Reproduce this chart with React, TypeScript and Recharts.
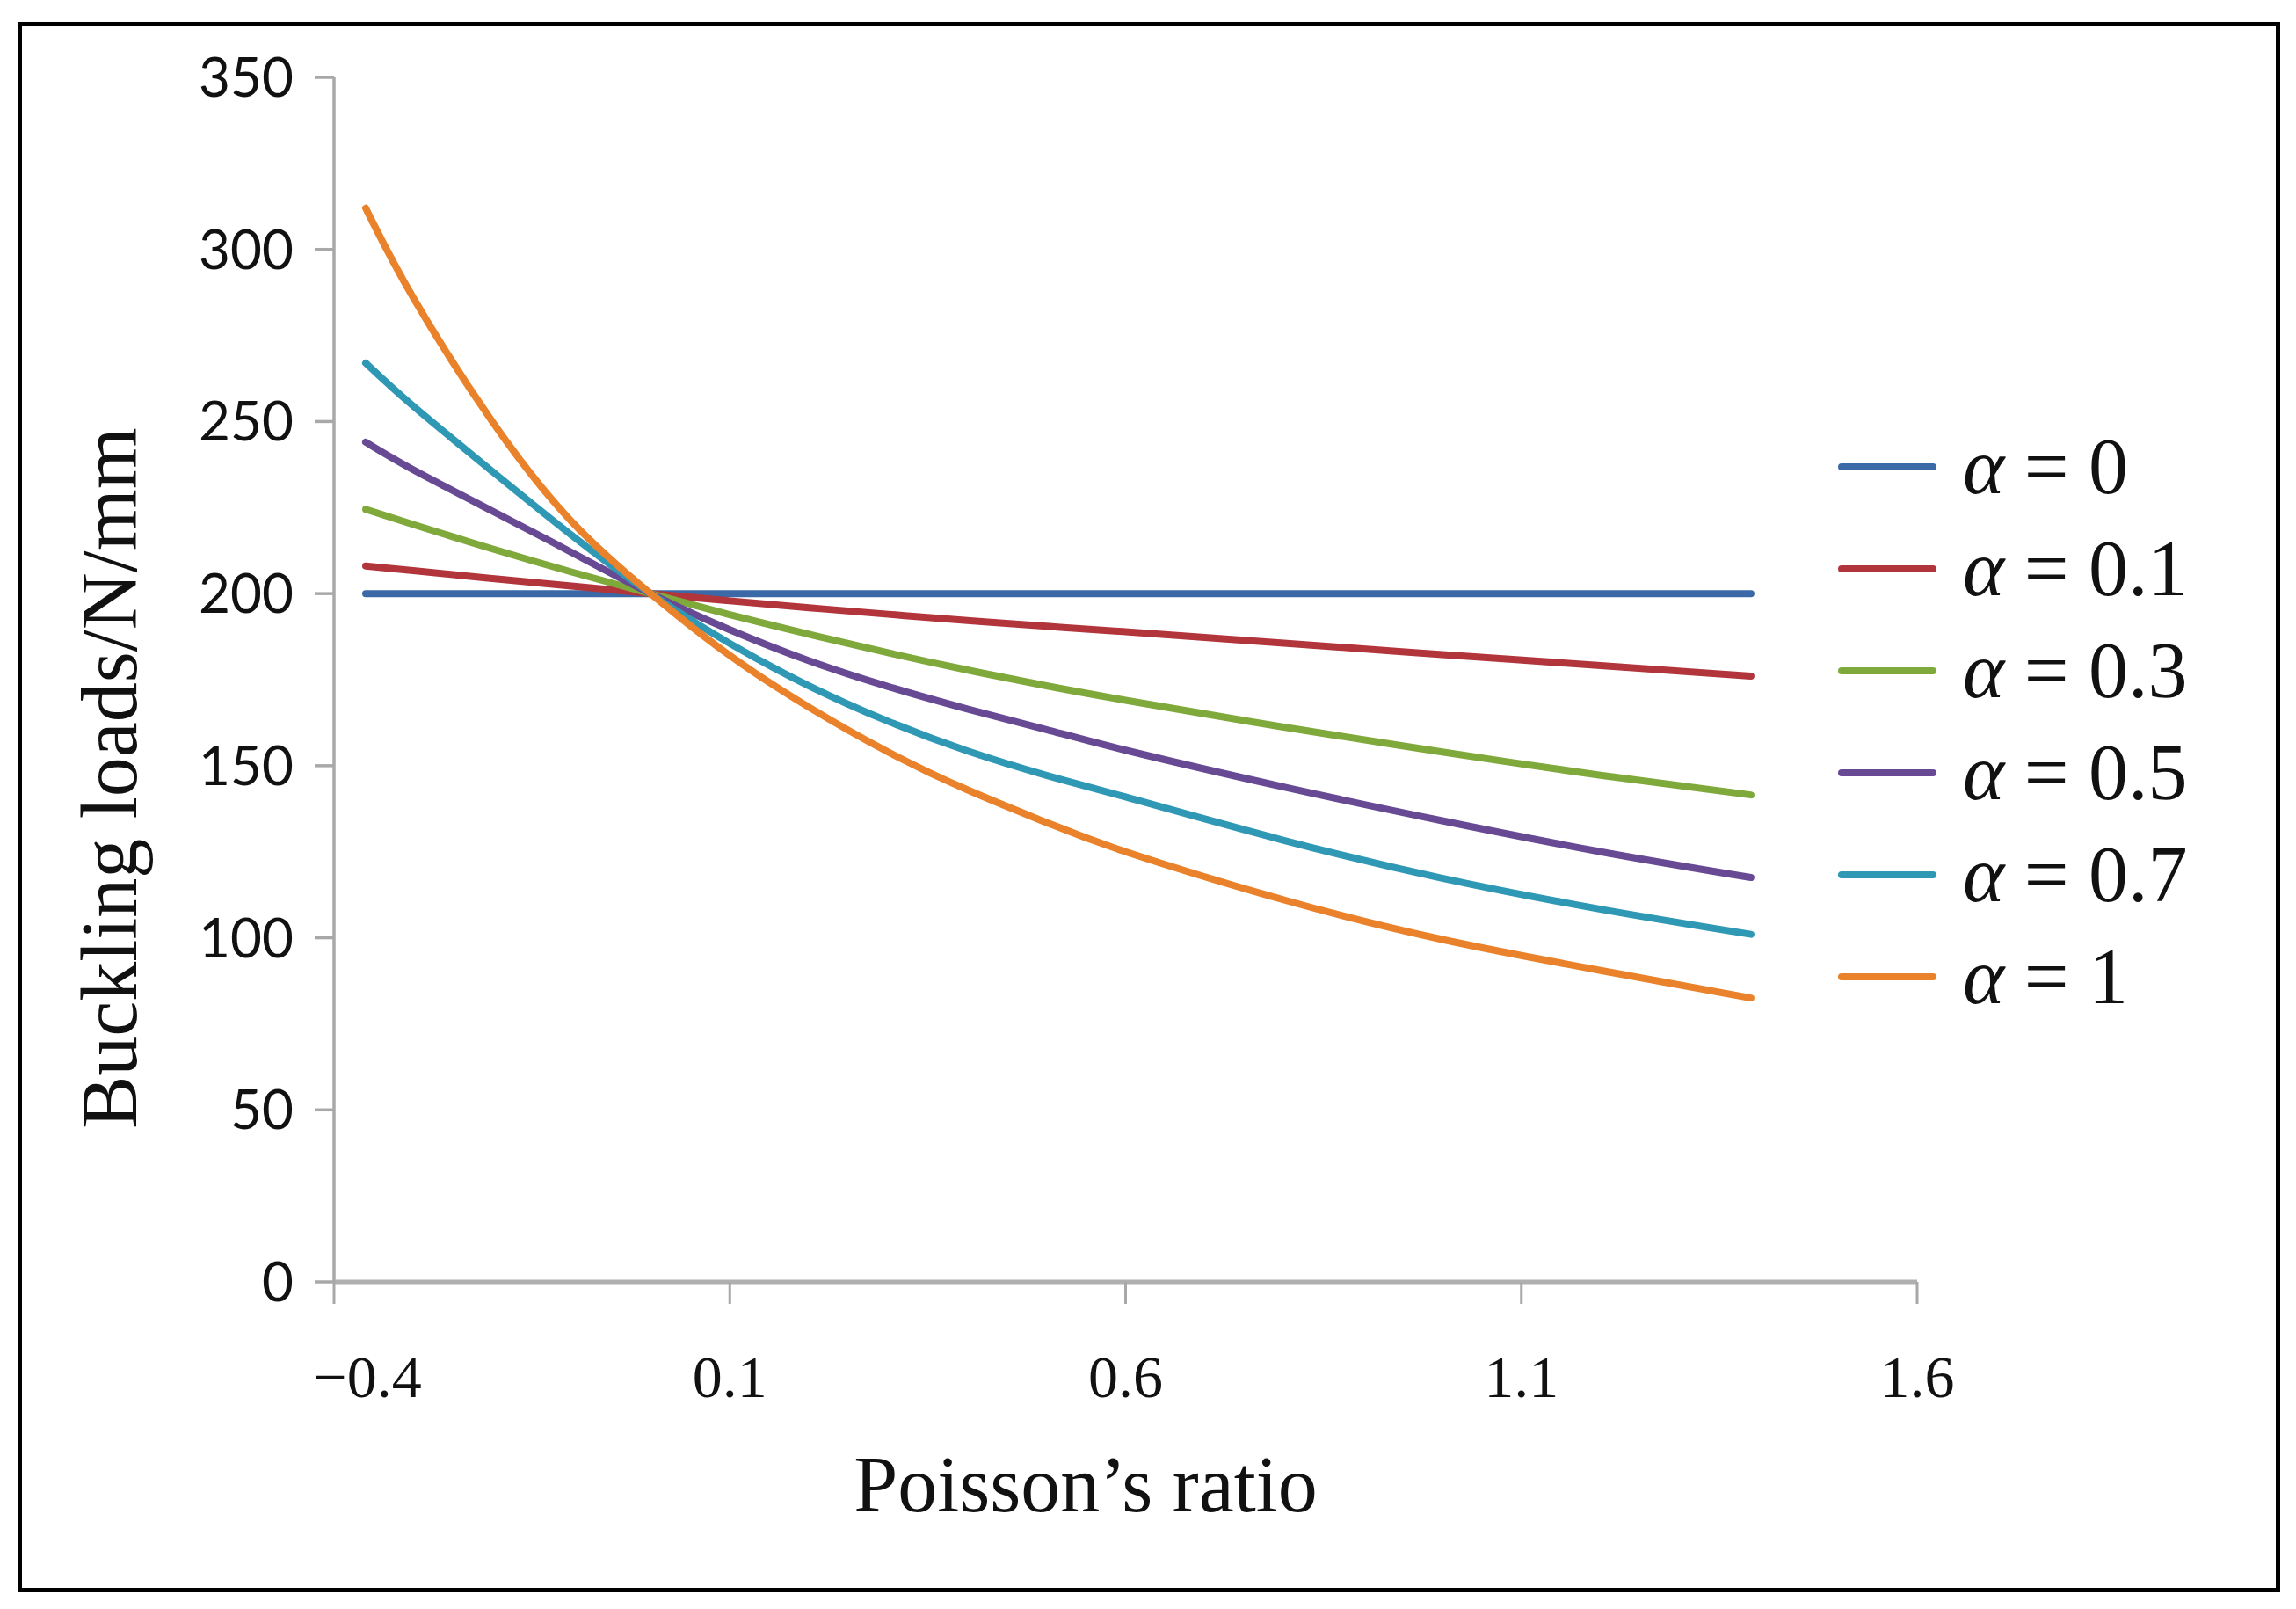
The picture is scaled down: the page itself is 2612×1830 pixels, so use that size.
import { LineChart, Line, XAxis, YAxis, Legend } from 'recharts';

// Poisson's ratio sample points
const nu = [-0.36, -0.3, -0.2, -0.1, 0, 0.1, 0.2, 0.3, 0.4, 0.5, 0.6, 0.8, 1.0, 1.2, 1.39];

// Buckling loads (N/mm)
const alpha0 = [200, 200, 200, 200, 200, 200, 200, 200, 200, 200, 200, 200, 200, 200, 200];
const alpha01 = [208, 206.7, 204.4, 202.2, 200, 197.9, 195.9, 194, 192.2, 190.5, 188.9, 185.6, 182.3, 179.1, 176];
const alpha03 = [224.5, 220.1, 213, 206.3, 200, 193.9, 188.2, 182.8, 177.8, 173.2, 169, 161.2, 154, 147.2, 141.5];
const alpha05 = [244, 236, 224, 212, 200, 189.5, 180.5, 173, 166.5, 160.5, 154.5, 143.8, 134, 125, 117.5];
const alpha07 = [267, 254.5, 235.5, 217, 200, 185.5, 173.2, 162.9, 154.3, 147.2, 140.9, 128.3, 117.3, 108.3, 101];
const alpha1 = [312, 286, 250, 221, 200, 182, 167, 154, 143, 133.5, 125, 111, 99.5, 90.5, 82.5];

const xTicks = [-0.4, 0.1, 0.6, 1.1, 1.6];
const yTicks = [0, 50, 100, 150, 200, 250, 300, 350];

const series = [
  { key: 'a0', label: 'α = 0', color: '#3B69A8', values: alpha0 },
  { key: 'a01', label: 'α = 0.1', color: '#B2353C', values: alpha01 },
  { key: 'a03', label: 'α = 0.3', color: '#80A93C', values: alpha03 },
  { key: 'a05', label: 'α = 0.5', color: '#674A93', values: alpha05 },
  { key: 'a07', label: 'α = 0.7', color: '#2F98B4', values: alpha07 },
  { key: 'a1', label: 'α = 1', color: '#E9822A', values: alpha1 },
];

const data = nu.map((v, i) => {
  const row: Record<string, number> = { nu: v };
  series.forEach((s) => {
    row[s.key] = s.values[i];
  });
  return row;
});

const serif = '"Liberation Serif", "DejaVu Serif", serif';

const XTick = ({ x, y, payload }: any) => {
  const v = payload.value as number;
  const text = v < 0 ? `\u2212${Math.abs(v).toFixed(1)}` : v.toFixed(1);
  return (
    <text
      x={x + (v < 0 ? 38 : 0)}
      y={y}
      dy="0.71em"
      textAnchor="middle"
      fontFamily={serif}
      fontSize={68}
      fill="#111"
    >
      {text}
    </text>
  );
};

const YTitle = () => (
  <text
    x={124}
    y={885}
    transform="rotate(-90 124 885)"
    textAnchor="middle"
    dominantBaseline="central"
    fontFamily={serif}
    fontSize={90}
    fill="#111"
  >
    Buckling loads/N/mm
  </text>
);

const XTitle = () => (
  <text x={1235} y={1719} textAnchor="middle" fontFamily={serif} fontSize={90} fill="#111">
    Poisson{'\u2019'}s ratio
  </text>
);

const LegendContent = () => (
  <div style={{ display: 'flex', flexDirection: 'column' }}>
    {series.map((s) => (
      <div key={s.key} style={{ display: 'flex', alignItems: 'center', height: 116 }}>
        <div style={{ width: 112, height: 8, borderRadius: 4, background: s.color }} />
        <span
          style={{
            marginLeft: 30,
            fontFamily: serif,
            fontSize: 90,
            color: '#111',
            whiteSpace: 'nowrap',
            lineHeight: 1,
          }}
        >
          <i>α</i>
          {s.label.slice(1)}
        </span>
      </div>
    ))}
  </div>
);

export default function App() {
  return (
    <div style={{ position: 'absolute', left: 0, top: 0, width: 2612, height: 1830, background: '#fff' }}>
      <div
        style={{
          position: 'absolute',
          left: 20,
          top: 25,
          width: 2574,
          height: 1786,
          border: '5px solid #000',
          boxSizing: 'border-box',
        }}
      />
      <div style={{ position: 'absolute', left: 0, top: 0 }}>
        <LineChart
          width={2612}
          height={1830}
          data={data}
          margin={{ top: 88, right: 431, bottom: 0, left: 0 }}
        >
          <XAxis
            dataKey="nu"
            type="number"
            domain={[-0.4, 1.6]}
            ticks={xTicks}
            stroke="#b0b0b0"
            strokeWidth={5}
            tickSize={25}
            tickMargin={58}
            tickLine={{ stroke: '#a8a8a8', strokeWidth: 3 }}
            tick={<XTick />}
            height={372}
            label={<XTitle />}
          />
          <YAxis
            type="number"
            domain={[0, 350]}
            ticks={yTicks}
            stroke="#a8a8a8"
            strokeWidth={3.5}
            tickSize={22}
            tickMargin={24}
            width={380}
            tick={{ fontFamily: 'Lato, "Noto Sans", sans-serif', fontSize: 62, fill: '#111' }}
            label={<YTitle />}
          />
          <Legend
            layout="vertical"
            align="center"
            verticalAlign="middle"
            content={<LegendContent />}
            wrapperStyle={{ left: 2091, top: 473, width: 480 }}
          />
          {series.map((s) => (
            <Line
              key={s.key}
              type="natural"
              dataKey={s.key}
              name={s.label}
              stroke={s.color}
              strokeWidth={8}
              strokeLinecap="round"
              dot={false}
              activeDot={false}
              isAnimationActive={false}
            />
          ))}
        </LineChart>
      </div>
    </div>
  );
}
